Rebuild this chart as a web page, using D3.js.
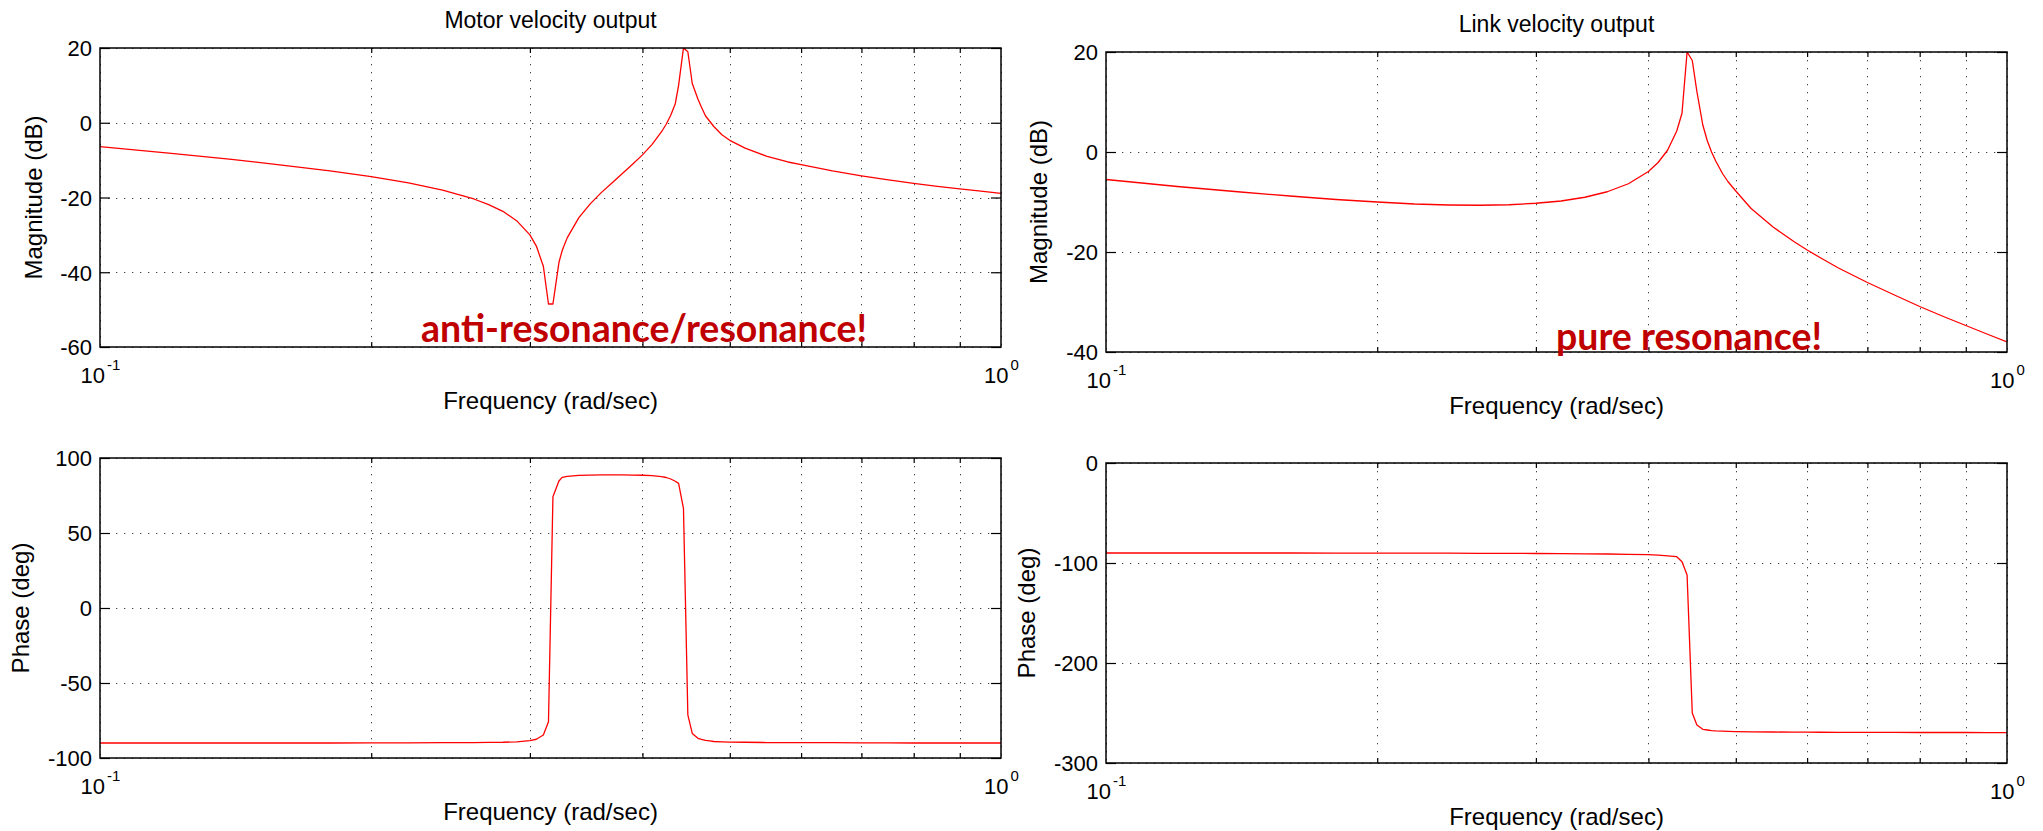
<!DOCTYPE html>
<html><head><meta charset="utf-8">
<script src="https://cdn.jsdelivr.net/npm/d3@7"></script>
<style>body{margin:0;background:#fff} svg{display:block}</style>
</head><body><svg id="c" width="2043" height="831"></svg>
<script>
// ---- data ----
const motorFreq = [0.1,0.12,0.14,0.16,0.18,0.2,0.22,0.24,0.26,0.27,0.28,0.29,0.3,0.305,0.3105,0.3146,0.3182,0.3231,0.3258,0.33,0.34,0.35,0.36,0.37,0.38,0.39,0.4,0.41,0.42,0.425,0.43,0.435,0.4387,0.4442,0.4492,0.4543,0.461,0.465,0.47,0.475,0.48,0.49,0.5,0.52,0.55,0.58,0.6,0.65,0.7,0.75,0.8,0.85,0.9,0.95,1.0];
const motorMag = [-6.4,-8.2,-9.8,-11.4,-12.9,-14.4,-16.1,-18.0,-20.4,-21.9,-23.7,-26.2,-30.0,-33.0,-38.4,-48.5,-48.5,-37.4,-34.2,-30.8,-25.4,-21.7,-18.7,-16.1,-13.6,-11.1,-8.6,-5.8,-2.4,-0.4,2.0,5.1,10.0,20.0,19.0,10.5,6.3,4.2,1.8,0.4,-1.0,-3.2,-4.7,-6.8,-9.0,-10.5,-11.2,-12.9,-14.2,-15.3,-16.2,-17.0,-17.7,-18.3,-18.9];
const motorPhase = [-90,-90,-90,-90,-90,-89.9,-89.9,-89.8,-89.7,-89.6,-89.5,-89.2,-88.4,-87.5,-84.7,-75.8,74.2,84.7,87.1,87.8,88.4,88.6,88.7,88.7,88.7,88.6,88.5,88.2,87.6,87.0,86.0,84.5,83.1,66.4,-71.3,-83.6,-86.9,-87.6,-88.2,-88.6,-89.0,-89.2,-89.4,-89.5,-89.7,-89.7,-89.8,-89.8,-89.9,-89.9,-90,-90,-90,-90,-90];
const linkFreq = [0.1,0.12,0.14,0.16,0.18,0.2,0.22,0.24,0.26,0.28,0.3,0.32,0.34,0.36,0.38,0.4,0.41,0.42,0.43,0.4358,0.4415,0.4474,0.4527,0.4596,0.465,0.47,0.475,0.4835,0.49,0.5,0.52,0.55,0.58,0.6,0.62,0.65,0.7,0.75,0.8,0.85,0.9,0.95,1.0];
const linkMag = [-5.5,-6.9,-7.95,-8.8,-9.5,-10.0,-10.4,-10.6,-10.65,-10.55,-10.25,-9.8,-9.05,-7.95,-6.35,-3.9,-2.1,0.35,4.2,7.75,20.0,18.3,12.1,5.4,2.2,0.0,-1.8,-4.35,-5.9,-7.8,-11.3,-15.0,-17.9,-19.6,-21.1,-23.2,-26.1,-28.6,-30.9,-32.9,-34.7,-36.4,-38.0];
const linkPhase = [-90,-90,-90,-90,-90.1,-90.1,-90.2,-90.2,-90.3,-90.4,-90.5,-90.6,-90.8,-91.0,-91.3,-91.7,-92.1,-92.8,-93.7,-98.7,-112,-250,-262,-266.3,-267.0,-267.6,-267.9,-268.2,-268.4,-268.6,-268.8,-269.0,-269.1,-269.2,-269.25,-269.3,-269.4,-269.45,-269.5,-269.5,-269.5,-269.55,-269.6];

const xGridTicks = [0.1,0.2,0.3,0.4,0.5,0.6,0.7,0.8,0.9,1];
const xMinorTicks = [0.2,0.3,0.4,0.5,0.6,0.7,0.8,0.9];
const xLabelTicks = [0.1, 1];
const xLabelExp = ["-1", "0"];
const motorMagTicks = [-60,-40,-20,0,20];
const motorPhaseTicks = [-100,-50,0,50,100];
const linkMagTicks = [-40,-20,0,20];
const linkPhaseTicks = [-300,-200,-100,0];

const titles = ["Motor velocity output", "Link velocity output"];
const xLabelText = "Frequency (rad/sec)";
const notes = ["anti-resonance/resonance!", "pure resonance!"];

// ---- layout ----
const FONT = "'Liberation Sans', Arial, Helvetica, sans-serif";
const panels = [
  {x0:100, x1:1001, y0:48, y1:347, dom:[-60,20], ticks:motorMagTicks, freq:motorFreq, vals:motorMag,
   title:titles[0], ylabel:"Magnitude (dB)", ylx:42, note:notes[0], nx:421, nw:446, ny:342},
  {x0:1106, x1:2007, y0:52, y1:352, dom:[-40,20], ticks:linkMagTicks, freq:linkFreq, vals:linkMag,
   title:titles[1], ylabel:"Magnitude (dB)", ylx:1047, note:notes[1], nx:1556, nw:266, ny:350},
  {x0:100, x1:1001, y0:458, y1:758, dom:[-100,100], ticks:motorPhaseTicks, freq:motorFreq, vals:motorPhase,
   ylabel:"Phase (deg)", ylx:29},
  {x0:1106, x1:2007, y0:463, y1:763, dom:[-300,0], ticks:linkPhaseTicks, freq:linkFreq, vals:linkPhase,
   ylabel:"Phase (deg)", ylx:1035}
];

const svg = d3.select("#c");
svg.append("rect").attr("width",2043).attr("height",831).attr("fill","#fff");

panels.forEach((p, i) => {
  const x = d3.scaleLog().domain([0.1, 1]).range([p.x0, p.x1]);
  const y = d3.scaleLinear().domain(p.dom).range([p.y1, p.y0]);
  const g = svg.append("g");

  const cid = "clip" + i;
  g.append("clipPath").attr("id", cid).append("rect")
    .attr("x", p.x0).attr("y", p.y0).attr("width", p.x1 - p.x0).attr("height", p.y1 - p.y0);

  // grid
  const grid = g.append("g").attr("stroke", "#444").attr("stroke-width", 1)
    .attr("stroke-dasharray", "1.3,6.7").attr("fill", "none");
  grid.selectAll("line.v").data(xGridTicks).join("line").attr("class","v")
    .attr("x1", d => Math.round(x(d)) + 0.5).attr("x2", d => Math.round(x(d)) + 0.5)
    .attr("y1", p.y0).attr("y2", p.y1);
  grid.selectAll("line.h").data(p.ticks).join("line").attr("class","h")
    .attr("y1", d => Math.round(y(d)) + 0.5).attr("y2", d => Math.round(y(d)) + 0.5)
    .attr("x1", p.x0).attr("x2", p.x1);

  // curve
  const pts = p.freq.map((f, k) => [f, p.vals[k]]);
  g.append("path").datum(pts)
    .attr("clip-path", `url(#${cid})`)
    .attr("fill", "none").attr("stroke", "#ff0000").attr("stroke-width", 1.3)
    .attr("stroke-linejoin", "round")
    .attr("d", d3.line().x(d => x(d[0])).y(d => y(d[1])));

  // box
  g.append("rect").attr("x", p.x0).attr("y", p.y0)
    .attr("width", p.x1 - p.x0).attr("height", p.y1 - p.y0)
    .attr("fill", "none").attr("stroke", "#000").attr("stroke-width", 1.5);

  // y axis (left)
  const ya = g.append("g").attr("transform", `translate(${p.x0},0)`)
    .call(d3.axisLeft(y).tickValues(p.ticks).tickSize(-10).tickPadding(8).tickFormat(d3.format("d")));
  ya.select(".domain").remove();
  ya.selectAll("line").attr("stroke", "#000").attr("stroke-width", 1.2);
  ya.selectAll("text").attr("font-family", FONT).attr("font-size", 22).attr("fill", "#000")
    .attr("dy", "0.36em").text(d => d < 0 ? "-" + Math.abs(d) : String(d));
  ya.attr("font-family", null).attr("font-size", null);

  // y axis (right), ticks only
  const yr = g.append("g").attr("transform", `translate(${p.x1},0)`)
    .call(d3.axisRight(y).tickValues(p.ticks).tickSize(-10).tickFormat(""));
  yr.select(".domain").remove();
  yr.selectAll("line").attr("stroke", "#000").attr("stroke-width", 1.2);

  // x minor ticks bottom and top
  const xb = g.append("g").attr("transform", `translate(0,${p.y1})`)
    .call(d3.axisBottom(x).tickValues(xMinorTicks).tickSize(-5).tickFormat(""));
  xb.select(".domain").remove();
  xb.selectAll("line").attr("stroke", "#000").attr("stroke-width", 1.2);
  const xt = g.append("g").attr("transform", `translate(0,${p.y0})`)
    .call(d3.axisTop(x).tickValues(xMinorTicks).tickSize(-5).tickFormat(""));
  xt.select(".domain").remove();
  xt.selectAll("line").attr("stroke", "#000").attr("stroke-width", 1.2);

  // x labels 10^-1, 10^0
  const xl = g.append("g").attr("transform", `translate(0,${p.y1})`)
    .call(d3.axisBottom(x).tickValues(xLabelTicks).tickSize(0).tickFormat(""));
  xl.select(".domain").remove();
  xl.selectAll("line").remove();
  xl.selectAll("text").each(function(d, k) {
    const t = d3.select(this).attr("y", 36).attr("dy", null)
      .attr("font-family", FONT).attr("font-size", 22).attr("fill", "#000").attr("text-anchor", "middle");
    t.text(null);
    t.append("tspan").text("10");
    t.append("tspan").attr("font-size", 15).attr("dy", -13).attr("dx", 2).text(xLabelExp[k]);
  });
  xl.attr("font-family", null).attr("font-size", null);

  // x axis label
  g.append("text").attr("x", (p.x0 + p.x1) / 2).attr("y", p.y1 + 62)
    .attr("text-anchor", "middle").attr("font-family", FONT).attr("font-size", 24)
    .attr("fill", "#000").text(xLabelText);

  // y axis label
  const cy = (p.y0 + p.y1) / 2;
  g.append("text").attr("transform", `translate(${p.ylx},${cy}) rotate(-90)`)
    .attr("text-anchor", "middle").attr("font-family", FONT).attr("font-size", 24)
    .attr("fill", "#000").text(p.ylabel);

  // title
  if (p.title) {
    g.append("text").attr("x", (p.x0 + p.x1) / 2).attr("y", p.y0 - 20)
      .attr("text-anchor", "middle").attr("font-family", FONT).attr("font-size", 23)
      .attr("fill", "#000").text(p.title);
  }

  // annotation
  if (p.note) {
    g.append("text").attr("x", p.nx).attr("y", p.ny)
      .attr("font-family", "Lato, 'Open Sans', sans-serif").attr("font-weight", "bold")
      .attr("font-size", 39).attr("fill", "#c00000")
      .attr("textLength", p.nw).attr("lengthAdjust", "spacingAndGlyphs")
      .text(p.note);
  }
});
</script>
</body></html>
